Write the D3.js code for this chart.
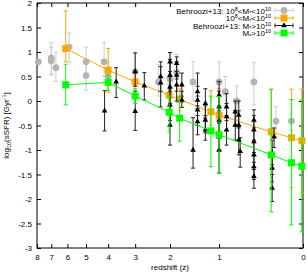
<!DOCTYPE html>
<meta charset="utf-8">
<head>
  <script src="https://d3js.org/d3.v7.min.js"></script>
  <style>
    body { margin: 0; background: #fff; }
    text { font-family: "Liberation Sans", Arial, sans-serif; }
  </style>
</head>
<body>
  <svg id="root"></svg>
  <script>
    const W = 307, H = 273;
    const plotLeft = 37, plotRight = 303, plotTop = 3, plotBottom = 248;

    // Behroozi+13 low mass (gray circles): redshift, value, lower, upper
    const grayZ  = [7.9, 7.0, 7.0, 6.7, 5.9, 5.0, 5.0, 4.17, 4.0, 3.0, 2.3, 2.0, 1.84, 1.48, 1.0, 0.9, 0.73, 0.5, 0.25, 0.1];
    const grayV  = [0.80, 0.88, 0.82, 0.68, 1.10, 0.80, 0.52, 0.80, 0.50, 0.60, 0.39, 0.45, 0.58, 0.39, 0.39, 0.19, 0.0, 0.39, -0.41, -0.41];
    const grayLo = [0.80, 0.53, 0.55, 0.40, 0.79, 0.50, 0.22, 0.50, 0.20, 0.30, 0.10, 0.10, 0.30, 0.00, 0.00, -0.10, -0.39, -0.08, -0.73, -0.60];
    const grayHi = [0.80, 1.19, 1.10, 1.00, 1.39, 1.10, 0.82, 1.20, 0.80, 1.00, 0.75, 0.98, 0.95, 0.80, 0.80, 0.50, 0.31, 0.78, -0.12, -0.25];

    // 10^8 < M* < 10^10 (orange squares)
    const orangeZ  = [6.1, 4.0, 3.0, 2.02, 1.77, 1.14, 1.0, 0.3, 0.1, 0.01];
    const orangeV  = [1.07, 0.63, 0.39, 0.12, 0.03, -0.22, -0.29, -0.63, -0.75, -0.81];
    const orangeLo = [0.80, 0.18, 0.20, -0.10, -0.20, -0.50, -0.60, -1.76, -1.77, -1.88];
    const orangeHi = [1.84, 1.07, 0.60, 0.35, 0.25, 0.21, 0.25, 0.24, 0.24, 0.24];

    // Behroozi+13 high mass (black triangles)
    const blackZ  = [4.15, 3.68, 3.0, 3.0, 2.71, 2.24, 2.24, 2.0, 2.0, 2.0, 2.0, 2.0, 1.84, 1.84, 1.84, 1.72, 1.72, 1.48,
                     1.39, 1.39, 1.39, 1.39, 1.24, 1.24, 1.24, 1.0, 1.0, 1.0, 1.0, 1.0, 0.88, 0.88, 0.88, 0.75, 0.75,
                     0.7, 0.7, 0.7, 0.68, 0.5, 0.5, 0.5, 0.5, 0.5, 0.5, 0.29, 0.29, 0.29, 0.27];
    const blackV  = [-0.20, 0.39, 0.60, -0.21, 0.31, 0.50, 0.37, 0.80, 0.53, 0.29, -0.08, -0.49, 0.77, 0.53, 0.33, 0.33, 0.02, -1.00,
                     0.19, 0.02, -0.18, -0.42, -0.05, -0.39, -0.59, 0.12, -0.12, -0.39, -0.73, -1.00, -0.12, -0.32, -0.59, -0.22, -0.49,
                     -0.29, -0.49, -0.80, -1.03, -0.39, -0.59, -0.83, -1.10, -1.34, -1.54, -1.06, -1.37, -1.78, -0.73];
    const blackLo = [-0.61, 0.07, 0.30, -0.60, 0.02, 0.20, -0.12, 0.50, 0.20, -0.05, -0.40, -0.90, 0.45, 0.20, 0.00, 0.10, -0.13, -1.37,
                     -0.10, -0.30, -0.50, -0.69, -0.35, -0.65, -0.80, -0.20, -0.45, -0.70, -1.00, -1.47, -0.40, -0.60, -0.90, -0.50, -0.80,
                     -0.55, -0.80, -1.10, -1.35, -0.60, -0.85, -1.10, -1.40, -1.60, -1.78, -1.30, -1.65, -2.05, -0.95];
    const blackHi = [0.21, 0.68, 0.98, 0.20, 0.58, 0.80, 0.70, 0.99, 0.85, 0.60, 0.25, -0.10, 0.90, 0.80, 0.60, 0.57, 0.20, -0.34,
                     0.57, 0.30, 0.10, -0.15, 0.25, -0.10, -0.30, 0.40, 0.20, -0.10, -0.45, -0.70, 0.15, -0.05, -0.30, 0.00, -0.20,
                     0.00, -0.20, -0.50, -0.75, -0.18, -0.30, -0.55, -0.80, -1.05, -1.25, -0.80, -1.10, -1.50, -0.55];

    // M* > 10^10 (green squares)
    const greenZ  = [6.1, 4.0, 3.0, 2.02, 1.77, 1.14, 1.0, 0.3, 0.1, 0.01];
    const greenV  = [0.33, 0.38, 0.10, -0.23, -0.35, -0.61, -0.69, -1.10, -1.26, -1.33];
    const greenLo = [-0.08, 0.22, -0.05, -0.63, -0.82, -1.34, -1.47, -2.26, -2.53, -2.67];
    const greenHi = [0.75, 0.53, 0.25, 0.10, 0.10, 0.10, 0.09, 0.24, 0.03, 0.02];

    const zTicks = [8, 7, 6, 5, 4, 3, 2, 1, 0];
    const yTicks = [-3, -2.5, -2, -1.5, -1, -0.5, 0, 0.5, 1, 1.5, 2];

    const svg = d3.select("#root").attr("width", W).attr("height", H);

    const x = d3.scaleLog().domain([9, 1]).range([plotLeft, plotRight]);
    const y = d3.scaleLinear().domain([-3, 2]).range([plotBottom, plotTop]);
    const xz = z => x(1 + z);

    // axes (ticks inward, mirrored)
    const axB = svg.append("g").attr("transform", `translate(0,${plotBottom})`)
      .call(d3.axisBottom(x).tickValues(zTicks.map(z => z + 1)).tickFormat(d => d - 1).tickSizeInner(-4).tickSizeOuter(0).tickPadding(6));
    const axT = svg.append("g").attr("transform", `translate(0,${plotTop})`)
      .call(d3.axisTop(x).tickValues(zTicks.map(z => z + 1)).tickFormat("").tickSizeInner(-4).tickSizeOuter(0));
    const axL = svg.append("g").attr("transform", `translate(${plotLeft},0)`)
      .call(d3.axisLeft(y).tickValues(yTicks).tickFormat(d => String(d)).tickSizeInner(-4).tickSizeOuter(0).tickPadding(5));
    const axR = svg.append("g").attr("transform", `translate(${plotRight},0)`)
      .call(d3.axisRight(y).tickValues(yTicks).tickFormat("").tickSizeInner(-4).tickSizeOuter(0));
    [axB, axT, axL, axR].forEach(a => {
      a.select(".domain").remove();
      a.selectAll("text").attr("font-size", 8).attr("fill", "#000")
        .style("font-family", "'Liberation Sans', Arial, sans-serif");
      a.selectAll("line").attr("stroke", "#000");
    });

    svg.append("rect").attr("x", plotLeft).attr("y", plotTop)
      .attr("width", plotRight - plotLeft).attr("height", plotBottom - plotTop)
      .attr("fill", "none").attr("stroke", "#000").attr("stroke-width", 1);

    // axis labels
    svg.append("text").attr("x", 170).attr("y", 270)
      .attr("text-anchor", "middle").attr("font-size", 8).text("redshift (z)");
    const yl = svg.append("text").attr("transform", `translate(9,${(plotTop + plotBottom) / 2}) rotate(-90)`)
      .attr("text-anchor", "middle").attr("font-size", 8);
    yl.append("tspan").text("log");
    yl.append("tspan").attr("font-size", 5.5).attr("dy", 2).text("10");
    yl.append("tspan").attr("dy", -2).text("(sSFR) [Gyr");
    yl.append("tspan").attr("font-size", 5.5).attr("dy", -3).text("-1");
    yl.append("tspan").attr("dy", 3).text("]");

    const plot = svg.append("g");

    function errorBars(zs, lo, hi, color) {
      const g = plot.append("g").attr("stroke", color).attr("stroke-width", 1);
      zs.forEach((z, i) => {
        if (hi[i] <= lo[i]) return;
        const cx = xz(z);
        g.append("line").attr("x1", cx).attr("x2", cx).attr("y1", y(lo[i])).attr("y2", y(hi[i]));
        [lo[i], hi[i]].forEach(v => g.append("line").attr("x1", cx - 2).attr("x2", cx + 2).attr("y1", y(v)).attr("y2", y(v)));
      });
    }

    function connect(zs, vs, color) {
      plot.append("path")
        .datum(zs.map((z, i) => [z, vs[i]]))
        .attr("fill", "none").attr("stroke", color).attr("stroke-width", 1)
        .attr("d", d3.line().x(d => xz(d[0])).y(d => y(d[1])));
    }

    function markers(zs, vs, shape, size, color) {
      plot.append("g").selectAll("path")
        .data(zs.map((z, i) => [z, vs[i]]))
        .join("path")
        .attr("transform", d => `translate(${xz(d[0])},${y(d[1])})`)
        .attr("d", d3.symbol().type(shape).size(size))
        .attr("fill", color);
    }

    const cGrayBar = "#cccccc", cGray = "#b4b4b4";
    const cOrange = "#ffa500", cBlack = "#000000", cBlackBar = "#222222", cGreen = "#00ff00";

    errorBars(grayZ, grayLo, grayHi, cGrayBar);
    markers(grayZ, grayV, d3.symbolCircle, 36, cGray);

    errorBars(orangeZ, orangeLo, orangeHi, cOrange);
    connect(orangeZ, orangeV, cOrange);
    markers(orangeZ, orangeV, d3.symbolSquare, 49, cOrange);

    errorBars(blackZ, blackLo, blackHi, cBlackBar);
    markers(blackZ, blackV, d3.symbolTriangle, 14, cBlack);

    errorBars(greenZ, greenLo, greenHi, cGreen);
    connect(greenZ, greenV, cGreen);
    markers(greenZ, greenV, d3.symbolSquare, 49, cGreen);

    // legend
    const legendRows = [
      { parts: [["Behroozi+13: 10", 0], ["8", -1], ["<M", 0], ["*", 1], ["<10", 0], ["10", -1]], shape: d3.symbolCircle, size: 36, color: cGray, bar: cGrayBar },
      { parts: [["10", 0], ["8", -1], ["<M", 0], ["*", 1], ["<10", 0], ["10", -1]], shape: d3.symbolSquare, size: 49, color: cOrange, bar: cOrange },
      { parts: [["Behroozi+13: M", 0], ["*", 1], [">10", 0], ["10", -1]], shape: d3.symbolTriangle, size: 14, color: cBlack, bar: cBlackBar },
      { parts: [["M", 0], ["*", 1], [">10", 0], ["10", -1]], shape: d3.symbolSquare, size: 49, color: cGreen, bar: cGreen }
    ];
    const lg = svg.append("g");
    legendRows.forEach((r, i) => {
      const ly = 10.5 + i * 7.5;
      const t = lg.append("text").attr("x", 271).attr("y", ly + 3).attr("text-anchor", "end").attr("font-size", 8);
      let prev = 0;
      r.parts.forEach(([s, lvl]) => {
        const shift = lvl === -1 ? -3 : lvl === 1 ? 1.5 : 0;
        t.append("tspan").attr("dy", shift - prev).attr("font-size", lvl ? 5.5 : 8).text(s);
        prev = shift;
      });
      const g = lg.append("g").attr("stroke", r.bar);
      g.append("line").attr("x1", 275).attr("x2", 293).attr("y1", ly).attr("y2", ly);
      g.append("line").attr("x1", 275).attr("x2", 275).attr("y1", ly - 2).attr("y2", ly + 2);
      g.append("line").attr("x1", 293).attr("x2", 293).attr("y1", ly - 2).attr("y2", ly + 2);
      lg.append("path").attr("transform", `translate(284,${ly})`)
        .attr("d", d3.symbol().type(r.shape).size(r.size)).attr("fill", r.color);
    });
  </script>
</body>
